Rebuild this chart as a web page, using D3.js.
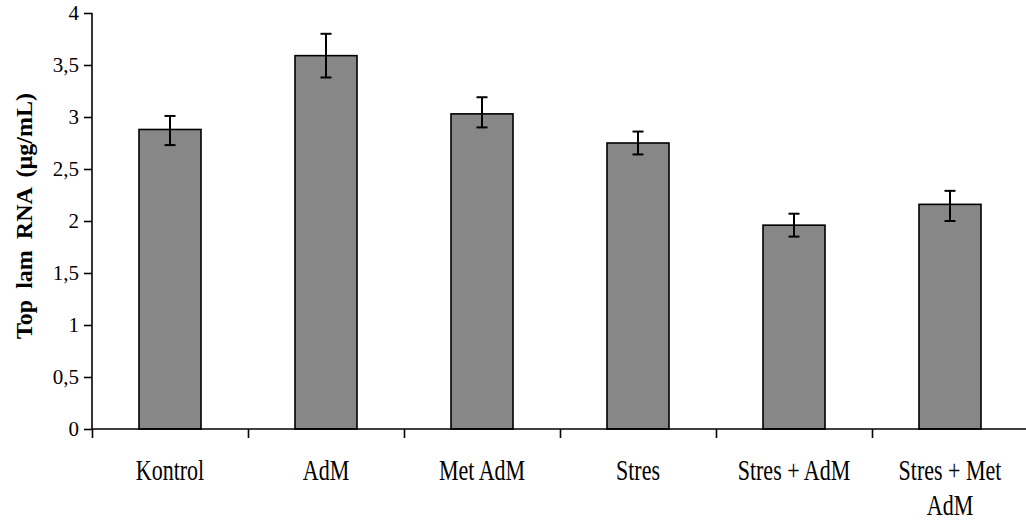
<!DOCTYPE html>
<html>
<head>
<meta charset="utf-8">
<script src="https://cdn.jsdelivr.net/npm/d3@7"></script>
<style>
  body { margin: 0; background: #fff; }
  svg { display: block; }
</style>
</head>
<body>
<svg></svg>
<script>
// Data
const groups = ["Kontrol", "AdM", "Met AdM", "Stres", "Stres + AdM", "Stres + Met AdM"];
const groupLines = [["Kontrol"], ["AdM"], ["Met AdM"], ["Stres"], ["Stres + AdM"], ["Stres + Met", "AdM"]];
const means = [2.88, 3.59, 3.03, 2.75, 1.96, 2.16];
const errLow = [2.73, 3.38, 2.90, 2.64, 1.85, 2.00];
const errHigh = [3.01, 3.80, 3.19, 2.86, 2.07, 2.29];
const yTicks = [0, 0.5, 1, 1.5, 2, 2.5, 3, 3.5, 4];

// SVG dimensions
const width = 1026;
const height = 522;
const plotLeft = 92, plotRight = 1028, plotTop = 13, plotBottom = 429;
const barWidth = 62;

const svg = d3.select("svg")
  .attr("width", width)
  .attr("height", height);

// Scales
const xScale = d3.scaleBand()
  .domain(groups)
  .range([plotLeft, plotRight]);

const yScale = d3.scaleLinear()
  .domain([0, 4])
  .range([plotBottom, plotTop]);

const center = g => xScale(g) + xScale.bandwidth() / 2;

// Bars
svg.selectAll("rect.bar")
  .data(means)
  .enter()
  .append("rect")
  .attr("class", "bar")
  .attr("x", (d, i) => center(groups[i]) - barWidth / 2)
  .attr("width", barWidth)
  .attr("y", d => yScale(d))
  .attr("height", d => yScale(0) - yScale(d))
  .attr("fill", "#878787")
  .attr("stroke", "#000")
  .attr("stroke-width", 1.6);

// Error bars
const err = svg.append("g")
  .attr("stroke", "#000")
  .attr("stroke-width", 2);

groups.forEach((g, i) => {
  const cx = center(g);
  err.append("line")
    .attr("x1", cx).attr("x2", cx)
    .attr("y1", yScale(errLow[i])).attr("y2", yScale(errHigh[i]));
  [errLow[i], errHigh[i]].forEach(v => {
    err.append("line")
      .attr("x1", cx - 5.5).attr("x2", cx + 5.5)
      .attr("y1", yScale(v)).attr("y2", yScale(v));
  });
});

// Y axis
const yAxis = d3.axisLeft(yScale)
  .tickValues(yTicks)
  .tickSize(8)
  .tickPadding(5)
  .tickFormat(d => String(d).replace(".", ","));

const yg = svg.append("g")
  .attr("transform", "translate(" + plotLeft + ",0)")
  .call(yAxis);
yg.select(".domain").attr("stroke-width", 1.6).attr("d", "M0," + plotTop + "V" + plotBottom);
yg.selectAll(".tick line").attr("stroke-width", 1.6);
yg.selectAll(".tick text")
  .attr("font-family", "Liberation Serif")
  .attr("font-size", 21)
  .attr("fill", "#000");

// X axis: ticks between groups
const xBounds = groups.map(g => xScale(g)).concat([plotRight]);
const xLinear = d3.scaleLinear().domain([plotLeft, plotRight]).range([plotLeft, plotRight]);
const xAxis = d3.axisBottom(xLinear)
  .tickValues(xBounds)
  .tickSize(9)
  .tickFormat("");
const xg = svg.append("g")
  .attr("transform", "translate(0," + plotBottom + ")")
  .call(xAxis);
xg.select(".domain").attr("stroke-width", 1.6).attr("d", "M" + plotLeft + ",0H" + plotRight);
xg.selectAll(".tick line").attr("stroke-width", 1.6);

// X labels
groupLines.forEach((lines, i) => {
  const cx = center(groups[i]);
  lines.forEach((t, j) => {
    svg.append("text")
      .attr("transform", "translate(" + cx + "," + (480 + j * 35) + ") scale(1,1.3)")
      .attr("text-anchor", "middle")
      .attr("font-family", "Liberation Serif")
      .attr("font-size", 22)
      .attr("fill", "#000")
      .text(t);
  });
});

// Y title
svg.append("text")
  .attr("transform", "translate(32,216) rotate(-90)")
  .attr("text-anchor", "middle")
  .attr("font-family", "Liberation Serif")
  .attr("font-weight", "bold")
  .attr("font-size", 24)
  .attr("word-spacing", 5)
  .attr("fill", "#000")
  .text("Top lam RNA (µg/mL)");
</script>
</body>
</html>
